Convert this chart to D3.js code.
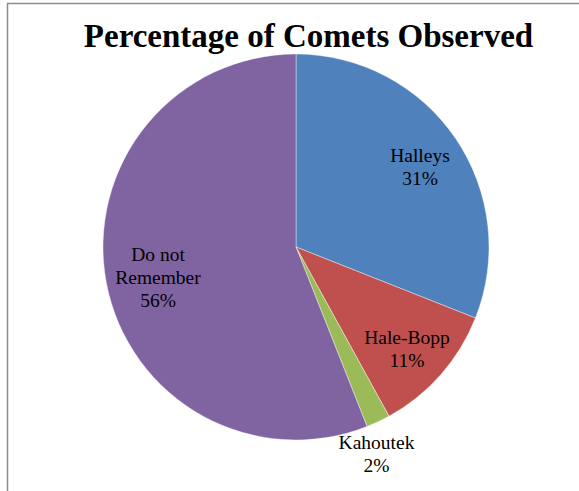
<!DOCTYPE html>
<html>
<head>
<meta charset="utf-8">
<script src="https://cdn.jsdelivr.net/npm/d3@7"></script>
<style>
  html, body { margin: 0; padding: 0; background: #fff; }
  svg { display: block; }
  svg text, svg tspan { font-family: "Liberation Serif", "Times New Roman", serif; }
</style>
</head>
<body>
<svg id="chart" width="579" height="491"></svg>
<script>
// Survey results: which comet people remember observing
const categories = ["Halleys", "Hale-Bopp", "Kahoutek", "Do not Remember"];
const percents = [31, 11, 2, 56];
const sliceColors = ["#4F81BD", "#C0504D", "#9BBB59", "#8064A2"];
const labelLines = [["Halleys"], ["Hale-Bopp"], ["Kahoutek"], ["Do not", "Remember"]];

const svg = d3.select("#chart");
const W = 579, H = 491;
const cx = 296, cy = 247, r = 193;

// Chart frame (top and left edges visible)
svg.append("line").attr("x1", 7).attr("y1", 3.5).attr("x2", W).attr("y2", 3.5)
  .attr("stroke", "#8c8c8c").attr("stroke-width", 1.5);
svg.append("line").attr("x1", 7.5).attr("y1", 3).attr("x2", 7.5).attr("y2", H)
  .attr("stroke", "#8c8c8c").attr("stroke-width", 1.5);

// Title
svg.append("text")
  .attr("x", 308.5).attr("y", 47)
  .attr("text-anchor", "middle")
  .attr("font-weight", "bold")
  .attr("font-size", 33)
  .attr("fill", "#000")
  .text("Percentage of Comets Observed");

const data = categories.map((c, i) => ({ name: c, value: percents[i], color: sliceColors[i], lines: labelLines[i] }));

const pie = d3.pie().value(d => d.value).sort(null);
const arc = d3.arc().innerRadius(0).outerRadius(r);
const arcs = pie(data);

const g = svg.append("g").attr("transform", `translate(${cx},${cy})`);

g.selectAll("path.slice")
  .data(arcs)
  .join("path")
  .attr("class", "slice")
  .attr("d", arc)
  .attr("fill", d => d.data.color)
  .attr("stroke", "#ffffff")
  .attr("stroke-opacity", 0.5)
  .attr("stroke-width", 0.8);

// Label anchor points (centre of the first text line baseline), relative to the pie centre
const labelPos = {
  "Halleys": [124, -85],
  "Hale-Bopp": [111, 97],
  "Kahoutek": [80.5, 202],
  "Do not Remember": [-138, 14]
};
const lineGap = 23;

const labels = g.selectAll("text.lbl")
  .data(arcs)
  .join("text")
  .attr("class", "lbl")
  .attr("text-anchor", "middle")
  .attr("font-size", 19.5)
  .attr("fill", "#000");

labels.each(function(d) {
  const [lx, ly] = labelPos[d.data.name];
  const t = d3.select(this);
  const lines = d.data.lines.concat([d3.format(".0%")(d.data.value / 100)]);
  lines.forEach((s, i) => {
    t.append("tspan").attr("x", lx).attr("y", ly + i * lineGap).text(s);
  });
});
</script>
</body>
</html>
